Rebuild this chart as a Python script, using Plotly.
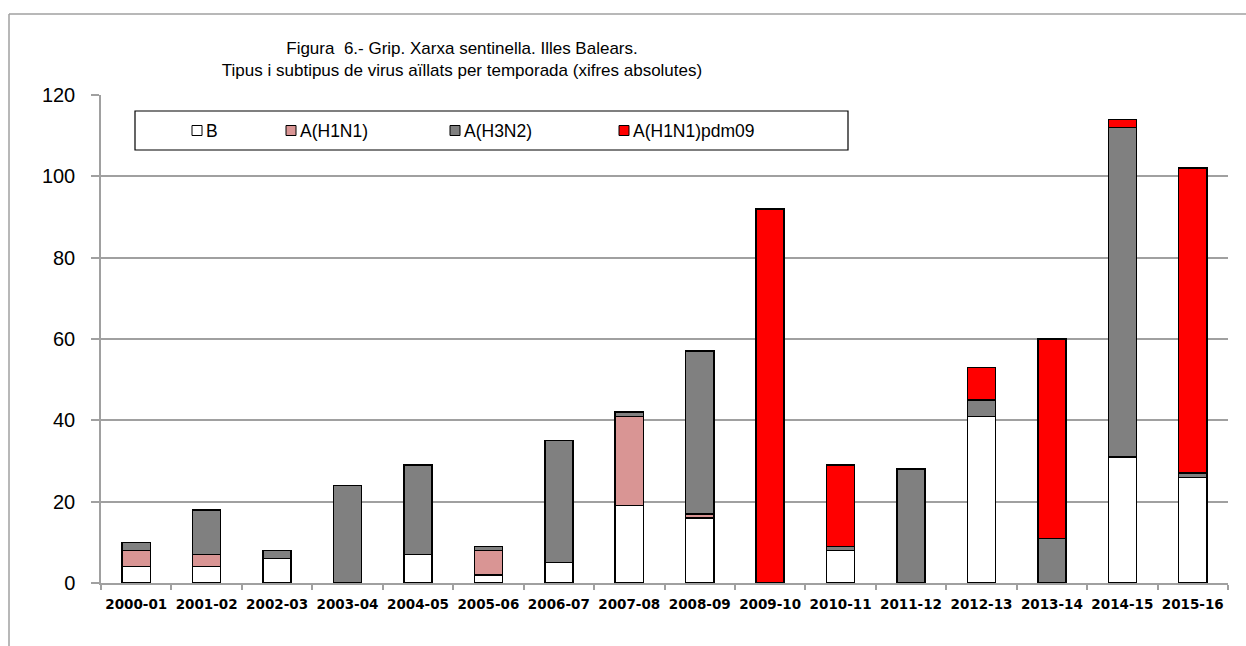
import plotly.graph_objects as go

seasons = ["2000-01", "2001-02", "2002-03", "2003-04", "2004-05", "2005-06", "2006-07", "2007-08",
           "2008-09", "2009-10", "2010-11", "2011-12", "2012-13", "2013-14", "2014-15", "2015-16"]
b_vals = [4, 4, 6, 0, 7, 2, 5, 19, 16, 0, 8, 0, 41, 0, 31, 26]
h1n1_vals = [4, 3, 0, 0, 0, 6, 0, 22, 1, 0, 0, 0, 0, 0, 0, 0]
h3n2_vals = [2, 11, 2, 24, 22, 1, 30, 1, 40, 0, 1, 28, 4, 11, 81, 1]
pdm_vals = [0, 0, 0, 0, 0, 0, 0, 0, 0, 92, 20, 0, 8, 49, 2, 75]

series_names = ["B", "A(H1N1)", "A(H3N2)", "A(H1N1)pdm09"]
series_colors = ["#ffffff", "#d99594", "#808080", "#ff0000"]
series_vals = [b_vals, h1n1_vals, h3n2_vals, pdm_vals]

title_text = ("Figura  6.- Grip. Xarxa sentinella. Illes Balears.<br>"
              "Tipus i subtipus de virus aïllats per temporada (xifres absolutes)")

W, H = 1246, 646
L, R, T, B = 101, 18, 95, 63
PW, PH = W - L - R, H - T - B


def px(x):
    return (x - L) / PW


def py(y):
    return (H - B - y) / PH


fig = go.Figure()
for name, color, vals in zip(series_names, series_colors, series_vals):
    fig.add_trace(go.Bar(
        x=seasons, y=vals, name=name,
        marker=dict(color=color, line=dict(color="#000000", width=1.5)),
        showlegend=False,
    ))

shapes = [
    # outer chart frame (top and left edges)
    dict(type="line", xref="paper", yref="paper", x0=px(9), x1=px(1250), y0=py(14), y1=py(14),
         line=dict(color="#a0a0a0", width=1.5)),
    dict(type="line", xref="paper", yref="paper", x0=px(9), x1=px(9), y0=py(14), y1=py(650),
         line=dict(color="#a0a0a0", width=1.5)),
    # legend box
    dict(type="rect", xref="paper", yref="paper", x0=px(135), x1=px(848), y0=py(111), y1=py(150),
         line=dict(color="#000000", width=1.2), fillcolor="#ffffff", layer="above"),
]
annotations = []
legend_x = [197, 291, 455, 624]
for name, color, cx in zip(series_names, series_colors, legend_x):
    shapes.append(dict(type="rect", xref="paper", yref="paper",
                       x0=px(cx - 5), x1=px(cx + 5), y0=py(125.5), y1=py(135.5),
                       line=dict(color="#000000", width=1), fillcolor=color, layer="above"))
    annotations.append(dict(text=name, xref="paper", yref="paper", x=px(cx + 7), y=py(130.5),
                            xanchor="left", yanchor="middle", showarrow=False,
                            font=dict(family="Liberation Sans, Arial", size=17.5, color="#000000")))

fig.update_layout(
    width=W, height=H,
    margin=dict(l=L, r=R, t=T, b=B, autoexpand=False),
    paper_bgcolor="#ffffff", plot_bgcolor="#ffffff",
    barmode="stack", bargap=0.6,
    title=dict(text=title_text, xref="container", yref="container", x=462 / W, xanchor="center",
               y=1 - 54 / H, yanchor="top",
               font=dict(family="Liberation Sans, Arial", size=17, color="#000000")),
    font=dict(family="Liberation Sans, Arial", color="#000000"),
    shapes=shapes, annotations=annotations,
    xaxis=dict(type="category", showline=True, linecolor="#a0a0a0", linewidth=1.5,
               ticks="outside", tickson="boundaries", ticklen=5, tickcolor="#a0a0a0", tickwidth=1.5,
               showgrid=False, ticklabelstandoff=8, tickangle=0,
               tickfont=dict(family="DejaVu Sans", size=13.5, color="#000000", weight="bold")),
    yaxis=dict(range=[0, 120], dtick=20, showline=True, linecolor="#a0a0a0", linewidth=1.5,
               ticks="outside", ticklen=8, tickcolor="#a0a0a0", tickwidth=1.5,
               showgrid=True, gridcolor="#a0a0a0", gridwidth=1.5, zeroline=False,
               ticklabelstandoff=12,
               tickfont=dict(family="Liberation Sans, Arial", size=20, color="#000000")),
)

fig.write_html("out.html", config={"displayModeBar": False},
               post_script="document.body.style.margin='0';document.body.style.padding='0';")
